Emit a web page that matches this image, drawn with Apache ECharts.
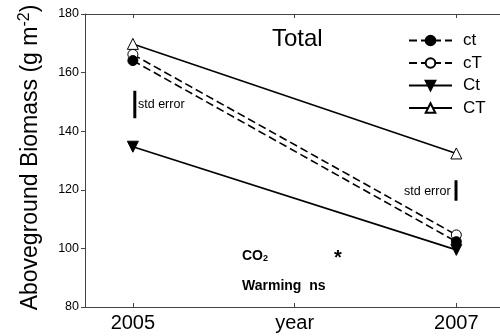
<!DOCTYPE html>
<html><head><meta charset="utf-8">
<script src="https://cdn.jsdelivr.net/npm/echarts@6/dist/echarts.min.js"></script>
<style>html,body{margin:0;padding:0;background:#fff}#c{width:500px;height:336px}</style>
</head><body><div id="c"></div>
<script>
const years = [2005, 2007];
const tickYears = [2005, 2006, 2007];
const xTickLabels = {2005: '2005', 2006: 'year', 2007: '2007'};
const ct = [164.1, 102.3];
const cT = [166.2, 104.6];
const Ct = [134.7, 99.5];
const CT = [169.8, 132.4];
const errBar2005 = [153.8, 144.4];
const errBar2007 = [123.3, 116.3];
const yTicks = [80, 100, 120, 140, 160, 180];

const F = 'Liberation Sans, Arial, sans-serif';
const pts = arr => years.map((y, i) => [y, arr[i]]);
const chart = echarts.init(document.getElementById('c'));
const xmin = 2004.704, xmax = 2007.27;
chart.setOption({
  animation: false,
  grid: {left: 85, right: 0, top: 14, bottom: 29},
  xAxis: [{
    type: 'value', min: xmin, max: xmax, position: 'bottom',
    axisLine: {lineStyle: {color: '#444', width: 1}},
    axisTick: {inside: true, length: 4, customValues: tickYears, lineStyle: {color: '#444'}},
    axisLabel: {customValues: tickYears, formatter: v => xTickLabels[Math.round(v)] || '', color: '#000', fontSize: 20, fontFamily: F, margin: 6},
    splitLine: {show: false}
  }, {
    type: 'value', min: xmin, max: xmax, position: 'top',
    axisLine: {lineStyle: {color: '#444', width: 1}},
    axisTick: {inside: true, length: 4, customValues: tickYears, lineStyle: {color: '#444'}},
    axisLabel: {show: false}, splitLine: {show: false}
  }],
  yAxis: {
    type: 'value', min: yTicks[0], max: yTicks[yTicks.length - 1], interval: 20,
    axisLine: {show: true, lineStyle: {color: '#444', width: 1}},
    axisTick: {show: true, length: 4, lineStyle: {color: '#444'}},
    axisLabel: {color: '#000', fontSize: 12.5, fontFamily: F, margin: 6},
    splitLine: {show: false},
    name: 'Aboveground Biomass (g m{sup|-2})',
    nameLocation: 'middle', nameRotate: 90, nameGap: 41,
    nameTextStyle: {color: '#000', fontSize: 23, fontFamily: F, padding: [0, 0, 0, 6],
      rich: {sup: {fontSize: 16, fontFamily: F, color: '#000', verticalAlign: 'top', padding: [0, 0, 11, 0]}}}
  },
  legend: {
    orient: 'vertical', left: 403, top: 27, itemWidth: 43, itemHeight: 12, itemGap: 5.5,
    data: ['ct', 'cT', 'Ct', 'CT'],
    textStyle: {color: '#000', fontSize: 17, fontFamily: F, padding: [0, 0, 0, 6]}
  },
  series: [
    {name: 'cT', type: 'line', data: pts(cT), symbol: 'circle', symbolSize: 10,
      lineStyle: {color: '#000', width: 1.6, type: [8, 4]}, itemStyle: {color: '#fff', borderColor: '#000', borderWidth: 1}},
    {name: 'ct', type: 'line', data: pts(ct), symbol: 'circle', symbolSize: 10,
      lineStyle: {color: '#000', width: 1.6, type: [8, 4]}, itemStyle: {color: '#000', borderColor: '#000', borderWidth: 1}},
    {name: 'CT', type: 'line', data: pts(CT), symbol: 'triangle', symbolSize: 11,
      lineStyle: {color: '#000', width: 1.6}, itemStyle: {color: '#fff', borderColor: '#000', borderWidth: 1}},
    {name: 'Ct', type: 'line', data: pts(Ct), symbol: 'triangle', symbolRotate: 180, symbolSize: 11,
      lineStyle: {color: '#000', width: 1.6}, itemStyle: {color: '#000', borderColor: '#000', borderWidth: 1}},
    {name: 'err1', type: 'line', data: errBar2005.map(v => [2005.012, v]), symbol: 'none',
      lineStyle: {color: '#000', width: 3}, silent: true},
    {name: 'err2', type: 'line', data: errBar2007.map(v => [2006.998, v]), symbol: 'none',
      lineStyle: {color: '#000', width: 3}, silent: true}
  ],
  graphic: [
    {type: 'text', left: 272, top: 27, style: {text: 'Total', font: '24px ' + F, fill: '#000'}},
    {type: 'text', left: 138, top: 98, style: {text: 'std error', font: '12.5px ' + F, fill: '#000'}},
    {type: 'text', left: 404, top: 185, style: {text: 'std error', font: '12.5px ' + F, fill: '#000'}},
    {type: 'text', left: 242, top: 249, style: {text: 'CO{s|2}', font: 'bold 14px ' + F, fill: '#000',
      rich: {s: {font: 'bold 9px ' + F, fill: '#000', verticalAlign: 'bottom', padding: [6, 0, 0, 0]}}}},
    {type: 'text', left: 334, top: 248, style: {text: '*', font: 'bold 20px ' + F, fill: '#000'}},
    {type: 'text', left: 242, top: 279, style: {text: 'Warming  ns', font: 'bold 14px ' + F, fill: '#000'}}
  ]
});
</script></body></html>
